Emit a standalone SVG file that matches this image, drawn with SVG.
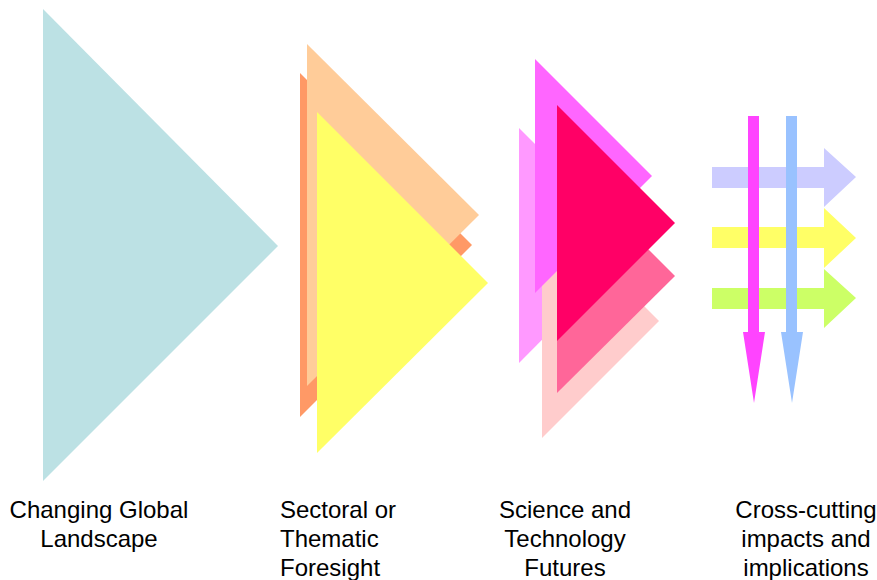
<svg xmlns="http://www.w3.org/2000/svg" width="877" height="580" viewBox="0 0 877 580">
  <style>
    .lbl { font-family: "Liberation Sans", Arial, sans-serif; font-size: 24px; fill: #000; }
    .mid { text-anchor: middle; }
  </style>
  <rect width="877" height="580" fill="#fff"/>

  <!-- Changing Global Landscape -->
  <g id="global">
    <polygon points="43,9 43,481 278,246" fill="#BCE1E4"/>
    <text class="lbl mid" x="99" y="518">Changing Global</text>
    <text class="lbl mid" x="99" y="547">Landscape</text>
  </g>

  <!-- Sectoral or Thematic Foresight -->
  <g id="sectoral">
    <polygon points="300,73 300,417 472,245" fill="#FF9966"/>
    <polygon points="307,44 307,386 479,215" fill="#FFCC99"/>
    <polygon points="317,112 317,453 488,283" fill="#FFFF66"/>
    <text class="lbl" x="280" y="518">Sectoral or</text>
    <text class="lbl" x="280" y="547">Thematic</text>
    <text class="lbl" x="280" y="576">Foresight</text>
  </g>

  <!-- Science and Technology Futures -->
  <g id="science">
    <polygon points="519,128 519,363 636,245" fill="#FF99FF"/>
    <polygon points="542,204 542,438 659,321" fill="#FFCCCC"/>
    <polygon points="535,59 535,293 652,176" fill="#FF66FF"/>
    <polygon points="557,158 557,393 675,276" fill="#FF6699"/>
    <polygon points="557,105 557,341 675,223" fill="#FF0066"/>
    <text class="lbl mid" x="565" y="518">Science and</text>
    <text class="lbl mid" x="565" y="547">Technology</text>
    <text class="lbl mid" x="565" y="576">Futures</text>
  </g>

  <!-- Cross-cutting impacts and implications -->
  <g id="crosscutting">
    <polygon points="712,167 824,167 824,148 856,177 824,207 824,188 712,188" fill="#CCCCFF"/>
    <polygon points="712,227 824,227 824,208 856,238 824,268 824,248 712,248" fill="#FFFF66"/>
    <polygon points="712,288 824,288 824,269 856,298 824,328 824,309 712,309" fill="#CCFF66"/>
    <polygon points="748,116 759,116 759,332 765,332 754,403 743,332 748,332" fill="#FF44FF"/>
    <polygon points="786,116 797,116 797,332 803,332 792,403 781,332 786,332" fill="#99C2FF"/>
    <text class="lbl mid" x="806" y="518">Cross-cutting</text>
    <text class="lbl mid" x="806" y="547">impacts and</text>
    <text class="lbl mid" x="806" y="576">implications</text>
  </g>

  <g id="connectors"/>
</svg>
